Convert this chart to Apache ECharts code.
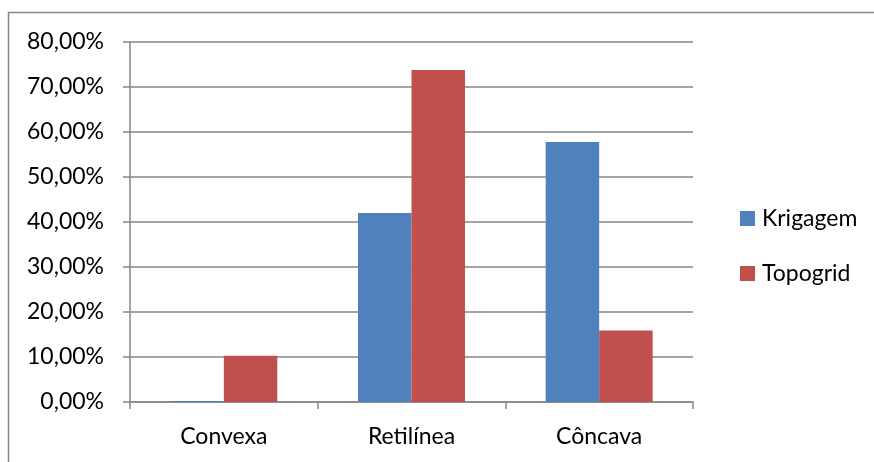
<!DOCTYPE html>
<html>
<head>
<meta charset="utf-8">
<script src="https://cdn.jsdelivr.net/npm/echarts@6/dist/echarts.min.js"></script>
<style>
  html, body { margin: 0; padding: 0; background: #fff; }
  #chart { width: 874px; height: 462px; }
</style>
</head>
<body>
<div id="chart"></div>
<script>
// Forma das vertentes: percentual por classe de curvatura
const categories = ['Convexa', 'Retilínea', 'Côncava'];
const krigagem = [0.2, 42.0, 57.8];
const topogrid = [10.3, 73.8, 15.9];
const seriesNames = ['Krigagem', 'Topogrid'];

const FONT = 'Lato';
const GRID_GRAY = '#868686';

const chart = echarts.init(document.getElementById('chart'));

chart.setOption({
  animation: false,
  backgroundColor: '#ffffff',
  textStyle: { fontFamily: FONT, color: '#000' },
  grid: { left: 130, right: 181, top: 42, bottom: 60 },
  legend: {
    orient: 'vertical',
    left: 735,
    top: 202,
    itemWidth: 15,
    itemHeight: 15,
    itemGap: 32,
    icon: 'rect',
    textStyle: { fontFamily: FONT, fontSize: 23, color: '#000', padding: [0, 0, 0, 2] },
    data: seriesNames
  },
  xAxis: {
    type: 'category',
    data: categories,
    axisLine: { lineStyle: { color: GRID_GRAY, width: 1.5 } },
    axisTick: { show: true, length: 7, lineStyle: { color: GRID_GRAY, width: 1.5 } },
    axisLabel: { fontFamily: FONT, fontSize: 23, color: '#000', margin: 23 }
  },
  yAxis: {
    type: 'value',
    min: 0,
    max: 80,
    interval: 10,
    axisLine: { show: true, lineStyle: { color: GRID_GRAY, width: 1.5 } },
    axisTick: { show: true, length: 7, lineStyle: { color: GRID_GRAY, width: 1.5 } },
    splitLine: { show: true, lineStyle: { color: GRID_GRAY, width: 1.5 } },
    axisLabel: {
      fontFamily: FONT,
      fontSize: 23,
      color: '#000',
      margin: 26,
      formatter: v => v.toFixed(2).replace('.', ',') + '%'
    }
  },
  series: [
    {
      name: seriesNames[0],
      type: 'bar',
      data: krigagem,
      itemStyle: { color: '#4F81BD' },
      barGap: '0%',
      barCategoryGap: '43%'
    },
    {
      name: seriesNames[1],
      type: 'bar',
      data: topogrid,
      itemStyle: { color: '#C0504D' },
      barGap: '0%',
      barCategoryGap: '43%'
    }
  ],
  graphic: [
    {
      type: 'rect',
      silent: true,
      shape: { x: 8.5, y: 12.5, width: 900, height: 500 },
      style: { fill: 'none', stroke: GRID_GRAY, lineWidth: 1.5 }
    }
  ]
});
</script>
</body>
</html>
